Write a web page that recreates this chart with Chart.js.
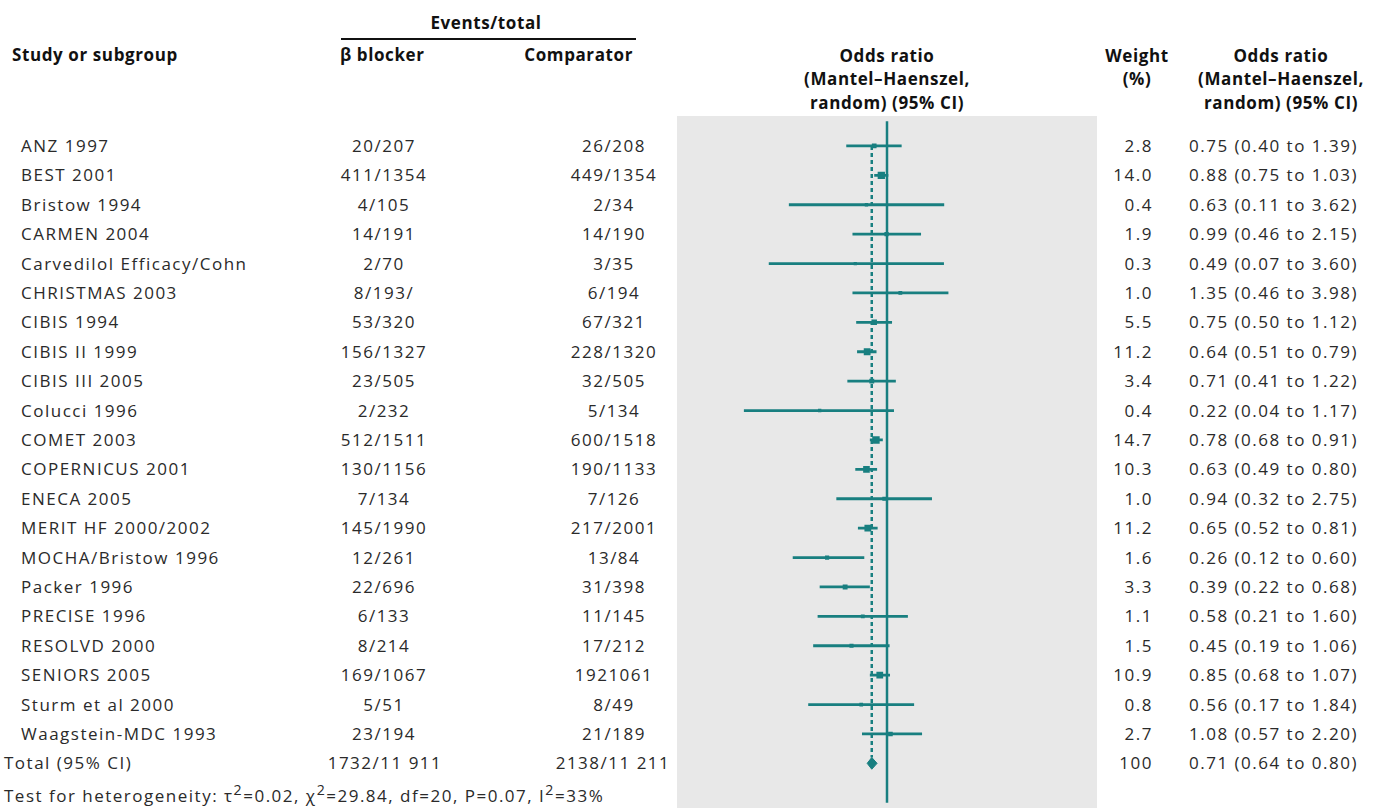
<!DOCTYPE html>
<html>
<head>
<meta charset="utf-8">
<title>Forest plot - beta blocker vs comparator</title>
<script src="https://cdn.jsdelivr.net/npm/chart.js@4.4.1/dist/chart.umd.min.js"></script>
<style>
  html, body { margin: 0; padding: 0; background: #fff; }
  #page { position: relative; width: 1377px; height: 808px; overflow: hidden;
          font-family: "Open Sans", "Noto Sans", sans-serif; color: #2a2a2a; }
  .t { position: absolute; white-space: nowrap; font-size: 17px; line-height: 20px; letter-spacing: 1.5px; }
  .h { position: absolute; white-space: nowrap; font-family: "Open Sans", sans-serif;
       font-weight: 700; font-size: 17px; line-height: 23.5px; letter-spacing: 0.6px;
       color: #111; text-align: center; }
  #plotBox { position: absolute; left: 677px; top: 116px; width: 420px; height: 692px; background: #e8e8e8; }
  #rule { position: absolute; left: 341px; top: 38px; width: 295px; height: 2px; background: #111; }
</style>
</head>
<body>
<div id="page">
  <div id="rule"></div>
  <div id="plotBox"><canvas id="forestChart"></canvas></div>
</div>
<script>
"use strict";

var studies = ['ANZ 1997', 'BEST 2001', 'Bristow 1994', 'CARMEN 2004', 'Carvedilol Efficacy/Cohn',
    'CHRISTMAS 2003', 'CIBIS 1994', 'CIBIS II 1999', 'CIBIS III 2005', 'Colucci 1996', 'COMET 2003',
    'COPERNICUS 2001', 'ENECA 2005', 'MERIT HF 2000/2002', 'MOCHA/Bristow 1996', 'Packer 1996',
    'PRECISE 1996', 'RESOLVD 2000', 'SENIORS 2005', 'Sturm et al 2000', 'Waagstein-MDC 1993'];
var betaBlocker = ['20/207', '411/1354', '4/105', '14/191', '2/70', '8/193/', '53/320', '156/1327',
    '23/505', '2/232', '512/1511', '130/1156', '7/134', '145/1990', '12/261', '22/696', '6/133',
    '8/214', '169/1067', '5/51', '23/194'];
var comparator = ['26/208', '449/1354', '2/34', '14/190', '3/35', '6/194', '67/321', '228/1320',
    '32/505', '5/134', '600/1518', '190/1133', '7/126', '217/2001', '13/84', '31/398', '11/145',
    '17/212', '1921061', '8/49', '21/189'];
var weights = [2.8, 14.0, 0.4, 1.9, 0.3, 1.0, 5.5, 11.2, 3.4, 0.4, 14.7, 10.3, 1.0, 11.2, 1.6, 3.3,
    1.1, 1.5, 10.9, 0.8, 2.7];
var oddsRatio = [0.75, 0.88, 0.63, 0.99, 0.49, 1.35, 0.75, 0.64, 0.71, 0.22, 0.78, 0.63, 0.94, 0.65,
    0.26, 0.39, 0.58, 0.45, 0.85, 0.56, 1.08];
var ciLow = [0.40, 0.75, 0.11, 0.46, 0.07, 0.46, 0.50, 0.51, 0.41, 0.04, 0.68, 0.49, 0.32, 0.52,
    0.12, 0.22, 0.21, 0.19, 0.68, 0.17, 0.57];
var ciHigh = [1.39, 1.03, 3.62, 2.15, 3.60, 3.98, 1.12, 0.79, 1.22, 1.17, 0.91, 0.80, 2.75, 0.81,
    0.60, 0.68, 1.60, 1.06, 1.07, 1.84, 2.20];

var totalLabel = 'Total (95% CI)';
var totalBeta = '1732/11 911';
var totalComparator = '2138/11 211';
var totalWeight = '100';
var totalOR = 0.71;
var totalLow = 0.64;
var totalHigh = 0.80;
var heterogeneity = 'Test for heterogeneity: \u03c4<sup>2</sup>=0.02, \u03c7<sup>2</sup>=29.84, df=20, P=0.07, I<sup>2</sup>=33%';

var xLimits = [0.01, 100];   // log axis range of the plot panel
var teal = '#187f80';

Chart.defaults.animation = false;

function orText(v, lo, hi) {
    return v.toFixed(2) + ' (' + lo.toFixed(2) + ' to ' + hi.toFixed(2) + ')';
}

var page = document.getElementById('page');

function addText(cls, html, x, y, align) {
    var d = document.createElement('div');
    d.className = cls;
    d.innerHTML = html;
    d.style.left = x + 'px';
    d.style.top = y + 'px';
    var tx = align === 'center' ? '-50%' : (align === 'right' ? '-100%' : '0');
    d.style.transform = 'translate(' + tx + ', -50%)';
    page.appendChild(d);
    return d;
}

// headers
addText('h', 'Events/total', 486, 23, 'center');
addText('h', 'Study or subgroup', 12, 55, 'left');
addText('h', '\u03b2 blocker', 340, 55, 'left');
addText('h', 'Comparator', 633, 55, 'right');
addText('h', 'Odds ratio<br>(Mantel\u2013Haenszel,<br>random) (95% CI)', 887, 78.5, 'center');
addText('h', 'Weight<br>(%)', 1137, 66.5, 'center');
addText('h', 'Odds ratio<br>(Mantel\u2013Haenszel,<br>random) (95% CI)', 1281, 78.5, 'center');

// datasets
var datasets = [];

datasets.push({
    label: 'No effect',
    data: [{x: 1, y: -1}, {x: 1, y: 24}],
    showLine: true,
    borderColor: teal,
    borderWidth: 2.5,
    pointRadius: 0
});

datasets.push({
    label: 'Pooled estimate',
    data: [{x: totalOR, y: 0}, {x: totalOR, y: 20.8}],
    showLine: true,
    borderColor: teal,
    borderWidth: 2.5,
    borderDash: [4, 3],
    pointRadius: 0
});

studies.forEach(function (s, i) {
    datasets.push({
        label: s,
        data: [{x: ciLow[i], y: i}, {x: ciHigh[i], y: i}],
        showLine: true,
        borderColor: teal,
        borderWidth: 2.8,
        pointRadius: 0
    });
});

datasets.push({
    label: 'Study estimates',
    data: oddsRatio.map(function (v, i) { return {x: v, y: i}; }),
    showLine: false,
    pointStyle: 'rect',
    backgroundColor: teal,
    borderWidth: 0,
    pointRadius: function (ctx) {
        return 1.8 + 0.9 * Math.sqrt(weights[ctx.dataIndex] || 0);
    }
});

var totalRow = studies.length;
datasets.push({
    label: 'Total',
    data: [{x: totalLow, y: totalRow}, {x: totalOR, y: totalRow - 0.2},
           {x: totalHigh, y: totalRow}, {x: totalOR, y: totalRow + 0.2},
           {x: totalLow, y: totalRow}],
    showLine: true,
    borderColor: teal,
    borderWidth: 1,
    backgroundColor: teal,
    fill: 'shape',
    pointRadius: 0
});

var chart = new Chart(document.getElementById('forestChart'), {
    type: 'scatter',
    data: {datasets: datasets},
    options: {
        responsive: true,
        maintainAspectRatio: false,
        layout: {padding: 0},
        plugins: {legend: {display: false}, tooltip: {enabled: false}},
        scales: {
            x: {type: 'logarithmic', min: xLimits[0], max: xLimits[1], display: false},
            y: {type: 'linear', min: -0.84, max: 22.34, reverse: true, display: false}
        }
    }
});

// table text, placed on the chart's own row scale
var yScale = chart.scales.y;
var top0 = 116;
studies.forEach(function (s, i) {
    var y = top0 + yScale.getPixelForValue(i);
    addText('t', s, 21, y, 'left');
    addText('t', betaBlocker[i], 384, y, 'center');
    addText('t', comparator[i], 614, y, 'center');
    addText('t', weights[i].toFixed(1), 1153, y, 'right');
    addText('t', orText(oddsRatio[i], ciLow[i], ciHigh[i]), 1189, y, 'left');
});
var yt = top0 + yScale.getPixelForValue(totalRow);
addText('t', totalLabel, 4, yt, 'left');
addText('t', totalBeta, 385, yt, 'center');
addText('t', totalComparator, 613, yt, 'center');
addText('t', totalWeight, 1153, yt, 'right');
addText('t', orText(totalOR, totalLow, totalHigh), 1189, yt, 'left');
addText('t', heterogeneity, 4, top0 + yScale.getPixelForValue(totalRow + 1), 'left');
</script>
</body>
</html>
